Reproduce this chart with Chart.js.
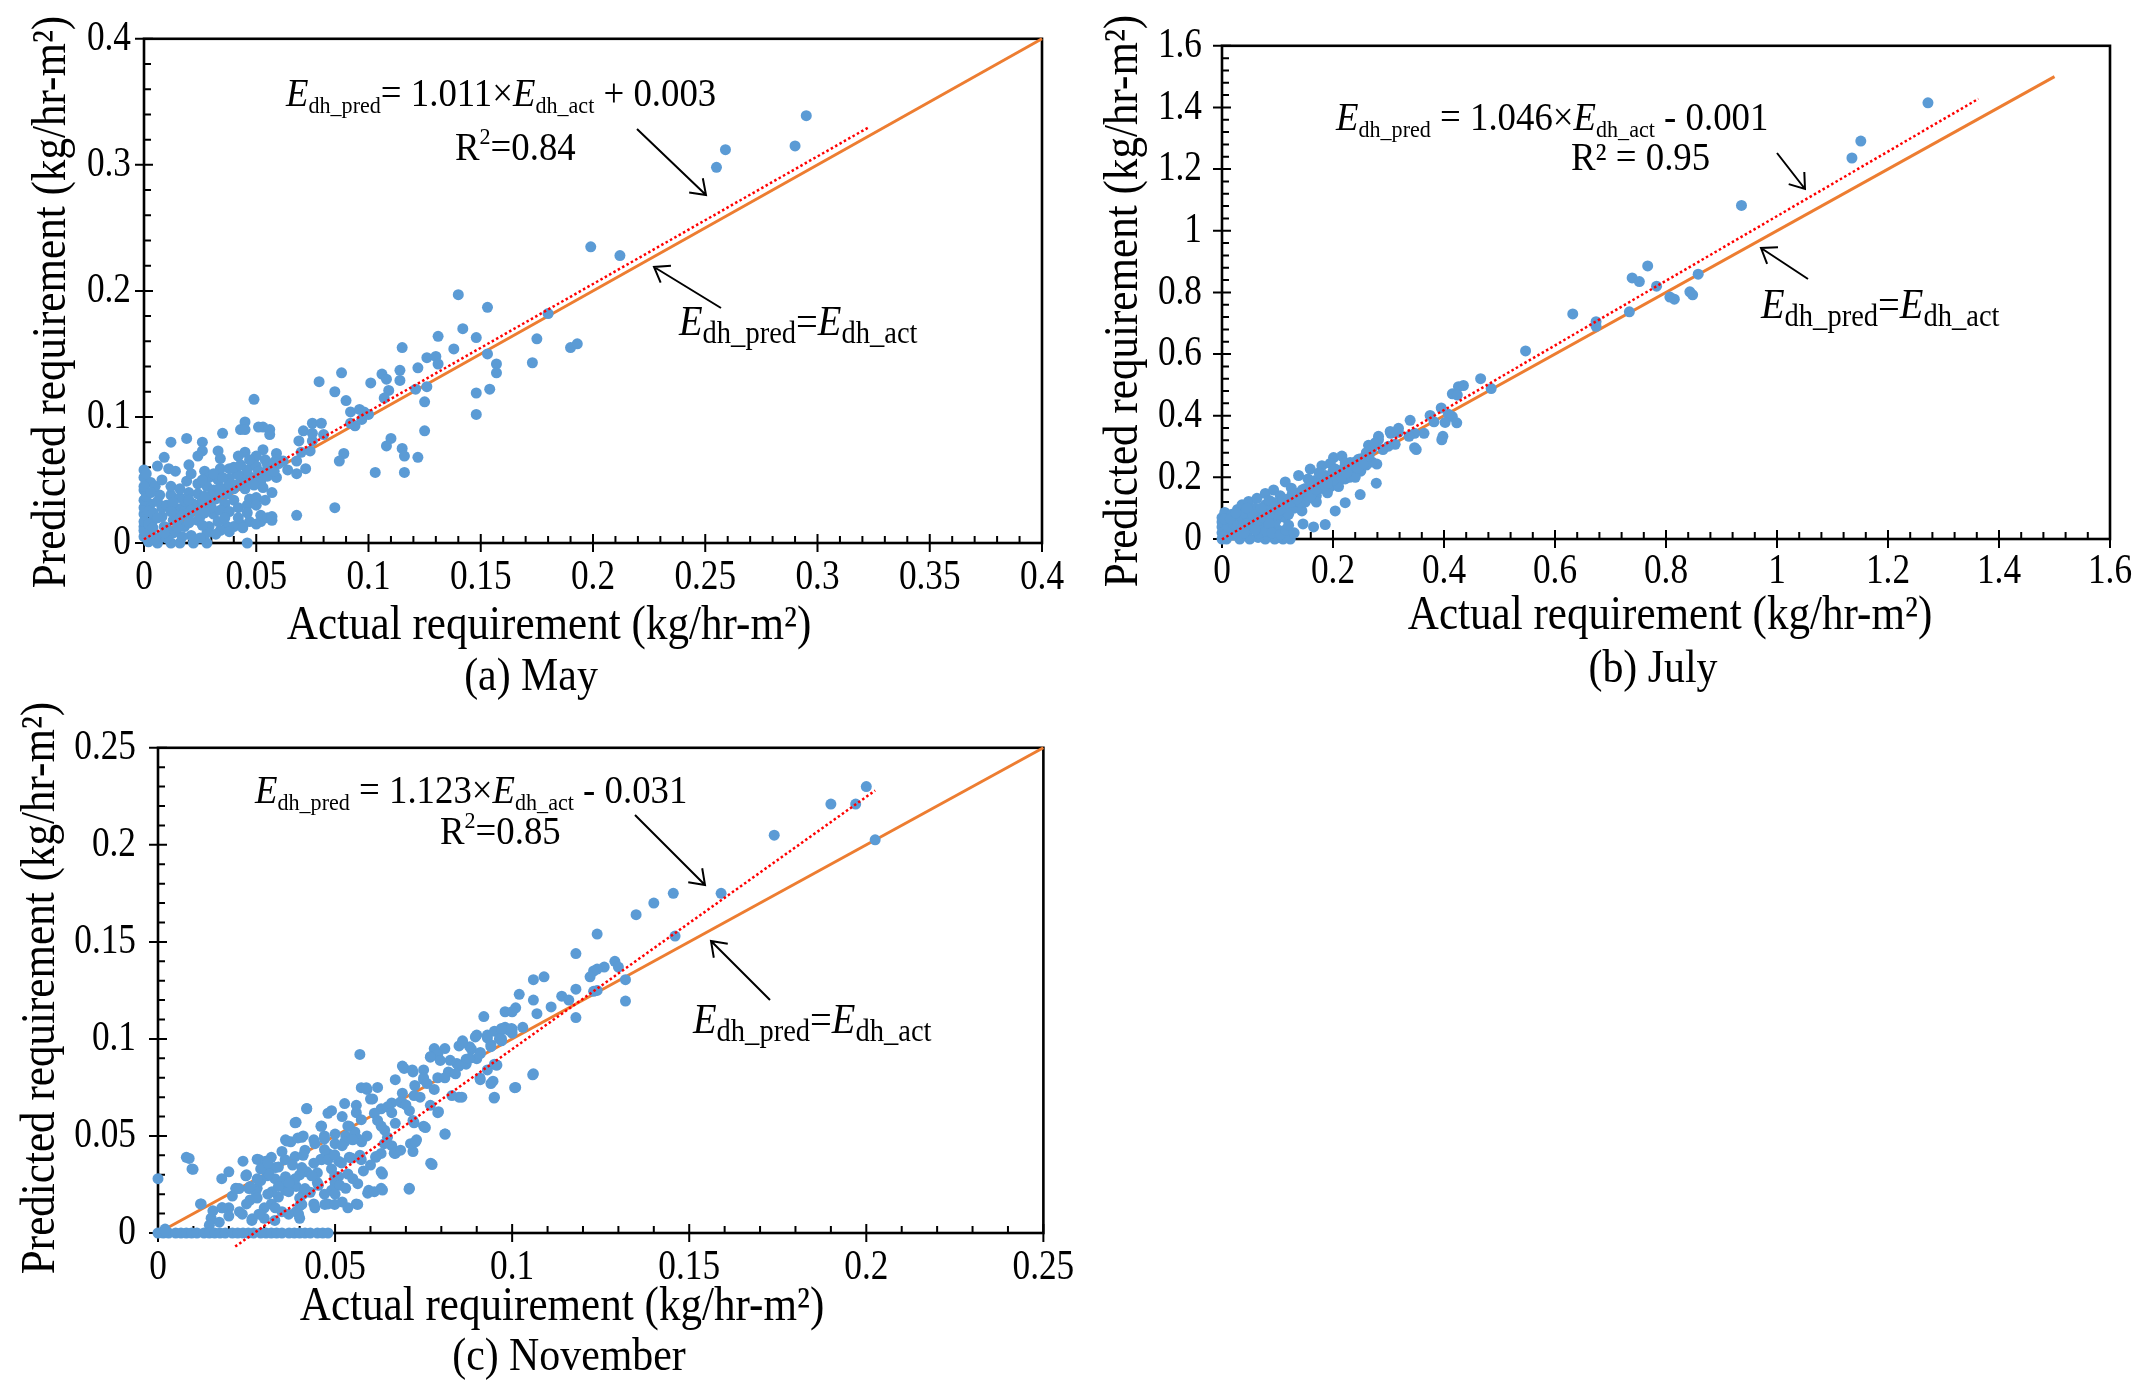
<!DOCTYPE html>
<html>
<head>
<meta charset="utf-8">
<script src="https://cdn.jsdelivr.net/npm/chart.js@4.4.1/dist/chart.umd.min.js"></script>
<style>
  body { margin: 0; background: #fff; width: 2145px; height: 1384px; position: relative; overflow: hidden; }
  canvas { position: absolute; }
</style>
</head>
<body>
<canvas id="chartMay" width="1080" height="710" style="left:0;top:0"></canvas>
<canvas id="chartJuly" width="1055" height="710" style="left:1090px;top:0"></canvas>
<canvas id="chartNov" width="1090" height="684" style="left:0;top:700px"></canvas>
<script>
// ---- data: [actual, predicted] in kg/hr-m2 ----
var mayPoints = [
  [0.295,0.339],[0.29,0.315],[0.259,0.312],[0.255,0.298],[0.199,0.235],[0.212,0.228],
  [0.14,0.197],[0.153,0.187],[0.18,0.182],[0.142,0.17],[0.131,0.164],[0.148,0.163],[0.175,0.162],[0.19,0.155],[0.193,0.158],
  [0.115,0.155],[0.138,0.154],[0.153,0.15],[0.157,0.142],[0.157,0.135],[0.173,0.143],[0.126,0.147],[0.13,0.148],[0.131,0.142],
  [0.122,0.139],[0.114,0.137],[0.106,0.134],[0.108,0.13],[0.114,0.129],[0.101,0.127],[0.088,0.135],[0.078,0.128],[0.085,0.12],
  [0.09,0.113],[0.109,0.121],[0.121,0.122],[0.126,0.124],[0.107,0.115],[0.125,0.112],[0.148,0.119],[0.154,0.122],[0.148,0.102],
  [0.049,0.114],[0.092,0.104],[0.096,0.106],[0.1,0.102],[0.094,0.093],[0.125,0.089],[0.11,0.083],[0.108,0.077],[0.115,0.075],
  [0.116,0.069],[0.122,0.068],[0.116,0.056],[0.103,0.056],[0.089,0.071],[0.087,0.065],[0.085,0.028],[0.068,0.022],[0.046,0],
  [0.098,0.104],[0.092,0.095],[0.097,0.098],
  [0.068,0.055],[0.072,0.059],[0.064,0.058],[0.059,0.052],[0.068,0.065],[0.07,0.072],[0.074,0.073],[0.075,0.081],[0.069,0.081],
  [0.071,0.089],[0.075,0.087],[0.075,0.095],[0.079,0.095],[0.08,0.086],[0.062,0.065],[0.059,0.071],[0.059,0.066],[0.053,0.074],
  [0.056,0.09],[0.053,0.092],[0.051,0.092],[0.056,0.086],[0.045,0.096],[0.043,0.09],[0.045,0.09],[0.045,0.072],[0.042,0.069],
  [0.049,0.062],[0.05,0.069],[0.035,0.087],[0.026,0.08],[0.026,0.073],[0.024,0.069],[0.033,0.073],[0.034,0.067],[0.034,0.059],
  [0.038,0.059],[0.041,0.057],[0.019,0.083],[0.012,0.08],[0.009,0.068],[0.006,0.061],[0,0.058],[0,0.052],[0.003,0.048],[0,0.042],
  [0.011,0.059],[0.014,0.057],[0.02,0.062],[0.027,0.057],[0.029,0.052],[0.019,0.049],[0.024,0.047],[0.028,0.045],[0.033,0.05],
  [0.038,0.051],[0.044,0.052],[0.047,0.049],[0.052,0.049],[0.053,0.044],[0.047,0.035],[0.05,0.036],[0.007,0.038],[0.012,0.038],
  [0.016,0.036],[0.024,0.039],[0.031,0.042],[0.037,0.039],[0.04,0.034],[0.036,0.031],[0.029,0.032],[0.025,0.028],[0.018,0.03],
  [0.015,0.027],[0.008,0.028],[0.003,0.031],[0,0.023],[0,0.013],[0,0.005],[0.004,0.018],[0.009,0.013],[0.013,0.018],[0.018,0.013],
  [0.024,0.018],[0.029,0.013],[0.037,0.013],[0.043,0.015],[0.047,0.017],[0.052,0.022],[0.052,0.017],[0.057,0.018],[0.031,0.023],
  [0.025,0.021],[0.003,0.008],[0.007,0.005],[0.012,0],[0.016,0],[0.022,0],[0.028,0],[0.006,0],[0.002,0.001],[0.013,0.008],
  [0.021,0.006],[0.028,0.008],[0.034,0.01],[0.04,0.013],
  [0.01,0.012],[0.015,0.018],[0.02,0.022],[0.024,0.027],[0.028,0.03],[0.032,0.035],[0.036,0.04],[0.04,0.043],[0.044,0.047],
  [0.048,0.052],[0.052,0.056],[0.056,0.06],[0.06,0.063],[0.018,0.025],[0.022,0.031],[0.03,0.038],[0.034,0.044],[0.038,0.047],
  [0.042,0.054],[0.046,0.058],[0.05,0.061],[0.054,0.066],[0.014,0.022],[0.026,0.034],[0.033,0.038],[0.041,0.046],[0.045,0.043],
  [0.049,0.046],[0.055,0.053],[0.058,0.057],
  [0,0.01],[0,0.017],[0,0.028],[0,0.034],[0.001,0.037],[0,0.045],[0.001,0.055],[0.002,0.015],[0.002,0.025],
  [0.005,0.003],[0.01,0.004],[0.017,0.005],[0.025,0.004],[0.032,0.007],[0.038,0.009],[0.044,0.012],[0.05,0.015],[0.055,0.02],[0.057,0.021],
  [0.005,0.045],[0.008,0.05],[0.012,0.045],[0.016,0.043],[0.02,0.04],[0.021,0.055],[0.026,0.05],[0.031,0.055],[0.035,0.052],
  [0.04,0.06],[0.043,0.062],[0.047,0.066],[0.051,0.057],[0.055,0.062],[0.058,0.064],[0.006,0.033],[0.01,0.03],[0.013,0.032],
  [0.02,0.034],[0.027,0.037],[0.03,0.028],[0.034,0.026],[0.038,0.025],[0.042,0.028],[0.046,0.03],[0.05,0.03],[0.054,0.034],
  [0.057,0.04],[0.004,0.024],[0.008,0.021],[0.012,0.025],[0.017,0.022],[0.021,0.026],[0.027,0.024],[0.003,0.04],[0.009,0.008],
  [0.015,0.012],[0.02,0.016],[0.026,0.014],[0.033,0.017],[0.036,0.02],[0.042,0.02],[0.046,0.024],[0.004,0.012],[0.006,0.02]
];
var mayFitLine = [[0,0.003],[0.323,0.33]];
var mayParityLine = [[0,0],[0.4,0.4]];
var mayXAxis = [0.4, 0.05, 0.01];   // max, major step, minor step
var mayYAxis = [0.4, 0.1, 0.02];

var julyPoints = [
  [1.272,1.415],[1.151,1.291],[1.135,1.236],[0.936,1.082],[0.767,0.886],[0.739,0.847],[0.752,0.835],[0.858,0.859],[0.783,0.82],
  [0.807,0.785],[0.815,0.778],[0.843,0.802],[0.848,0.792],[0.734,0.737],[0.632,0.73],[0.674,0.705],[0.674,0.69],[0.547,0.61],
  [0.466,0.52],[0.485,0.488],[0.426,0.494],[0.435,0.498],[0.415,0.471],[0.424,0.467],[0.395,0.425],[0.375,0.401],[0.408,0.405],
  [0.415,0.397],[0.402,0.378],[0.423,0.377],[0.382,0.38],[0.339,0.385],[0.398,0.333],[0.396,0.322],[0.364,0.343],[0.347,0.343],
  [0.337,0.333],[0.318,0.346],[0.304,0.343],[0.347,0.296],[0.35,0.29],[0.312,0.307],[0.3,0.301],[0.282,0.322],[0.264,0.304],
  [0.27,0.291],[0.318,0.359],[0.303,0.349],[0.279,0.243],[0.278,0.181],[0.249,0.144],[0.222,0.118],[0.204,0.091],[0.186,0.047],
  [0.165,0.039],[0.146,0.049],
  [0.123,0],[0.11,0],[0.095,0],[0.078,0],[0.05,0],[0.032,0],[0.008,0],[0,0],[0.12,0.01],[0.1,0.005],[0.065,0.005],
  [0,0.039],[0,0.069],[0.005,0.086],[0,0.02],[0,0.055],
  [0.011,0.059],[0.018,0.08],[0.028,0.096],[0.036,0.111],[0.048,0.122],[0.063,0.132],[0.078,0.148],[0.093,0.159],[0.114,0.185],
  [0.138,0.206],[0.159,0.227],[0.18,0.238],[0.201,0.264],[0.216,0.269],[0.282,0.333],[0.168,0.19],[0.186,0.206],[0.222,0.195],
  [0.222,0.248],[0.204,0.227],[0.18,0.164],[0.15,0.164],[0.138,0.148],[0.108,0.122],[0.126,0.143],[0.096,0.091],[0.078,0.111],
  [0.06,0.091],[0.042,0.069],[0.024,0.059],[0.018,0.039],[0.036,0.039],[0.054,0.049],[0.078,0.059],[0.102,0.069],[0.114,0.101],
  [0.09,0.039],[0.102,0.028],[0.066,0.018],[0.048,0.028],[0.012,0.023],[0.02,0.013],[0.014,0.028],[0.21,0.185],[0.234,0.217],
  [0.246,0.259],[0.276,0.312],[0.231,0.248],[0.195,0.169],[0.165,0.132],[0.144,0.091],[0.126,0.111],[0.144,0.148],[0.114,0.069],
  [0.096,0.054],[0.078,0.039],[0.06,0.039],
  [0.02,0.03],[0.03,0.05],[0.04,0.04],[0.05,0.06],[0.06,0.07],[0.07,0.08],[0.08,0.09],[0.09,0.1],[0.1,0.11],[0.11,0.12],
  [0.12,0.13],[0.13,0.14],[0.14,0.15],[0.15,0.16],[0.16,0.17],[0.17,0.18],[0.18,0.19],[0.19,0.2],[0.2,0.21],[0.21,0.22],
  [0.22,0.23],[0.23,0.24],[0.24,0.25],[0.25,0.26],[0.05,0.03],[0.07,0.05],[0.09,0.07],[0.11,0.09],[0.13,0.1],[0.15,0.12],
  [0.17,0.14],[0.19,0.15],[0.21,0.17],[0.23,0.2],[0.25,0.22],[0.27,0.25],[0.03,0.07],[0.06,0.1],[0.085,0.125],[0.105,0.14],
  [0.125,0.165],[0.155,0.195],[0.175,0.215],[0.195,0.245],[0.26,0.28],[0.29,0.29],[0.26,0.24],[0.24,0.2],[0.2,0.19],
  [0.17,0.12],[0.12,0.08],[0.14,0.12],[0.1,0.08],
  [0.01,0.02],[0.015,0.045],[0.025,0.02],[0.03,0.035],[0.035,0.06],[0.045,0.05],[0.04,0.085],[0.055,0.08],[0.065,0.06],
  [0.07,0.1],[0.075,0.07],[0.085,0.08],[0.09,0.12],[0.095,0.105],[0.105,0.095],[0.11,0.13],[0.115,0.115],[0.125,0.12],
  [0.135,0.13],[0.145,0.16],[0.155,0.15],[0.16,0.14],[0.17,0.16],[0.185,0.175],[0.19,0.18],[0.2,0.22],[0.215,0.2],
  [0.225,0.215],[0.245,0.23],[0.255,0.245],[0.265,0.27],[0.005,0.01],[0.01,0.04],[0.02,0.05],[0.04,0.02],[0.06,0.03],
  [0.08,0.025],[0.085,0.05],[0.005,0.065],[0.015,0.065],[0.025,0.085],[0.045,0.1],[0.09,0.02],[0.105,0.015],[0.115,0.03],
  [0.12,0.045],[0.13,0.02]
];
var julyFitLine = [[0,-0.001],[1.363,1.428]];
var julyParityLine = [[0,0],[1.5,1.5]];
var julyXAxis = [1.6, 0.2, 0.04];
var julyYAxis = [1.6, 0.2, 0.04];

var novPoints = [
  [0.2,0.23],[0.19,0.221],[0.197,0.221],[0.174,0.205],[0.2025,0.2026],[0.159,0.175],[0.1455,0.175],[0.14,0.17],[0.135,0.164],
  [0.146,0.153],[0.124,0.154],[0.118,0.144],[0.129,0.14],[0.126,0.137],[0.124,0.136],[0.123,0.135],[0.13,0.137],[0.132,0.1305],
  [0.122,0.132],[0.109,0.132],[0.106,0.1305],[0.123,0.1245],[0.124,0.125],[0.118,0.1256],[0.132,0.1195],[0.114,0.122],[0.116,0.12],
  [0.102,0.123],[0.106,0.12],[0.111,0.1165],[0.107,0.113],[0.118,0.111],[0.101,0.116],[0.098,0.114],[0.1,0.114],[0.092,0.1115],
  [0.098,0.106],[0.099,0.1046],[0.1,0.105],[0.0965,0.1035],[0.09,0.102],[0.093,0.1005],[0.097,0.099],[0.094,0.097],[0.086,0.099],
  [0.085,0.0964],[0.0885,0.0947],[0.087,0.0895],[0.09,0.0898],[0.0957,0.0865],[0.0825,0.089],[0.079,0.093],[0.106,0.082],
  [0.057,0.092],[0.042,0.064],[0.039,0.057],[0.008,0.039],[0.0096,0.033],[0,0.028],[0.012,0.015],[0.018,0.013],[0.015,0.0076],
  [0.002,0.002],[0.077,0.036],[0.071,0.023],[0.081,0.051],[0.079,0.062],[0.085,0.07],[0.095,0.07],[0.101,0.075],[0.091,0.079],
  [0.093,0.084],[0.094,0.077],[0.095,0.087],[0.087,0.087],[0.088,0.096],[0.081,0.095],[0.078,0.095],[0.077,0.091],[0.079,0.092],
  [0.075,0.084],[0.075,0.079],[0.069,0.086],[0.072,0.083],[0.067,0.079],[0.0725,0.076],[0.069,0.072],[0.062,0.075],[0.059,0.074],
  [0.06,0.069],[0.066,0.067],[0.063,0.064],[0.069,0.067],[0.071,0.063],[0.072,0.058],[0.067,0.0565],[0.064,0.053],[0.075,0.055],
  [0.073,0.048],[0.072,0.042],[0.067,0.041],[0.063,0.041],[0.0615,0.039],[0.066,0.045],[0.063,0.0315],[0.063,0.023],[0.0595,0.022],
  [0.053,0.05],[0.054,0.055],[0.056,0.062],[0.0556,0.052],[0.0575,0.047],[0.057,0.04],[0.054,0.039],[0.051,0.037],[0.047,0.05],
  [0.05,0.046],[0.048,0.041],[0.046,0.038],[0.049,0.033],[0.051,0.029],[0.05,0.026],[0.049,0.022],[0.052,0.016],[0.056,0.015],
  [0.048,0.015],[0.044,0.015],[0.04,0.014],[0.041,0.02],[0.045,0.026],[0.045,0.031],[0.042,0.0315],[0.04,0.03],[0.039,0.024],
  [0.036,0.022],[0.034,0.0185],[0.032,0.015],[0.035,0.011],[0.039,0.011],[0.03,0.0076],[0.03,0.013],[0.026,0.017],[0.023,0.011],
  [0.028,0.023],[0.029,0.027],[0.033,0.028],[0.036,0.029],[0.034,0.034],[0.031,0.033],[0.032,0.039],[0.028,0.038],[0.035,0.042],
  [0.0375,0.047],[0.0395,0.049],[0.041,0.05],[0.036,0.048],[0.044,0.048],[0.046,0.055],[0.049,0.063],[0.052,0.06],[0.025,0.03],
  [0.024,0.037],[0.022,0.023],[0.021,0.019],[0.018,0.028],[0.02,0.0315],[0.0265,0.0065],[0.033,0.0065],[0.04,0.0076],[0.02,0.013],
  [0.02,0.0087],
  [0.0536,0.0551],[0.0574,0.0584],[0.0611,0.0617],[0.0648,0.065],[0.0685,0.0675],[0.0723,0.0708],[0.05,0.051],[0.047,0.0485],
  [0.0443,0.046],[0.0415,0.0427],[0.0387,0.0394],[0.0359,0.0378],[0.0331,0.0337],[0.0308,0.0295],[0.028,0.0279],[0.0248,0.0295],
  [0.022,0.0229],[0.0155,0.0114],[0.0122,0.015],[0.0182,0.013],[0.0173,0.0056],[0.0145,0.004],[0.0088,0.0384],[0.0099,0.0328],
  [0.0238,0.0097],[0.0229,0.0229],[0.0266,0.0073],[0.0285,0.0378],[0.0304,0.037],[0.0257,0.0229],[0.0276,0.0213],[0.0313,0.0304],
  [0.0322,0.0213],[0.035,0.0262],[0.0369,0.0213],[0.0387,0.0279],[0.0406,0.0337],[0.0415,0.0229],[0.0434,0.0295],[0.0453,0.0246],
  [0.0406,0.0147],[0.0443,0.013],[0.0471,0.0147],[0.0499,0.0147],[0.0536,0.013],[0.0564,0.0147],[0.0369,0.0097],[0.0397,0.0097],
  [0.0285,0.0097],[0.0331,0.013],[0.0387,0.0568],[0.042,0.0642],[0.0364,0.0474],[0.0406,0.0493],[0.0462,0.0551],[0.048,0.0617],
  [0.0527,0.0667],[0.056,0.0658],[0.0574,0.0749],[0.0588,0.0749],[0.0606,0.0691],[0.0695,0.0848],[0.0718,0.084],[0.0769,0.0906],
  [0.075,0.0799],[0.0462,0.0378],[0.048,0.0378],[0.0499,0.0403],[0.0518,0.0361],[0.0546,0.0386],[0.0574,0.0378],[0.0499,0.0295],
  [0.0513,0.0246],[0.0536,0.0304],[0.0564,0.0254],[0.0592,0.0205],[0.0611,0.0213],[0.0634,0.0221],[0.0634,0.0304],[0.0667,0.0411],
  [0.0685,0.0427],[0.0713,0.046],[0.0615,0.0394],[0.0639,0.046],[0.0648,0.0493],[0.063,0.0551],[0.0564,0.0485],[0.0527,0.0469],
  [0.0709,0.0226],[0.0774,0.0353],[0.0723,0.0568],[0.0727,0.0469],[0.0755,0.0543],[0.0811,0.051],[0.0792,0.0625],[0.0769,0.0658],
  [0.083,0.0708],[0.0858,0.07],[0.0909,0.0799],[0.0946,0.0782],[0.0949,0.0695],[0.1007,0.0749],[0.1058,0.0815],[0.0955,0.0865],
  [0.0844,0.0873],[0.0797,0.0889],
  [0.076,0.077],[0.079,0.08],[0.082,0.083],[0.085,0.086],[0.088,0.09],[0.091,0.093],[0.094,0.096],[0.097,0.1],[0.1,0.103],[0.103,0.106],
  [0.086,0.098],[0.0896,0.101],[0.093,0.102],[0.095,0.104],[0.097,0.1054],[0.0998,0.1054],[0.0964,0.1],[0.091,0.0924],
  [0.025,0.015],[0.028,0.018],[0.031,0.02],[0.034,0.024],[0.037,0.026],[0.04,0.018],[0.043,0.021],[0.047,0.02],[0.05,0.02],
  [0.053,0.023],[0.055,0.028],[0.058,0.032],[0.06,0.035],[0.038,0.035],[0.041,0.04],[0.044,0.036],[0.047,0.043],[0.052,0.045],
  [0.055,0.048],[0.059,0.05],[0.062,0.058],[0.066,0.062],[0.07,0.066],[0.074,0.07],[0.078,0.074],[0.081,0.08],[0.084,0.082],
  [0.029,0.033],[0.026,0.024],[0.031,0.036],
  [0,0],[0.0015,0],[0.003,0],[0.005,0],[0.0065,0],[0.008,0],[0.0095,0],[0.011,0],[0.013,0],[0.0145,0],[0.016,0],[0.0175,0],
  [0.019,0],[0.021,0],[0.0225,0],[0.024,0],[0.0255,0],[0.027,0],[0.029,0],[0.0305,0],[0.032,0],[0.0335,0],[0.035,0],[0.037,0],
  [0.0385,0],[0.04,0],[0.0415,0],[0.043,0],[0.045,0],[0.0465,0],[0.048,0],[0.002,0.001]
];
var novFitLine = [[0.0218,-0.007],[0.2025,0.228]];
var novParityLine = [[0,0],[0.25,0.25]];
var novXAxis = [0.25, 0.05, 0.01];
var novYAxis = [0.25, 0.05, 0.01];

// ---- drawing helpers ----
var serif = "'Liberation Serif', 'Times New Roman', serif";

function xy(list) {
  return list.map(function (p) { return { x: p[0], y: p[1] }; });
}

function fmt(v) {
  return String(Math.round(v * 1000) / 1000);
}

// the source figure's text is narrow and tall: squeeze glyphs sideways
function narrowText(ctx) {
  var orig = ctx.fillText;
  ctx.textScale = 0.82;
  ctx.fillText = function (t, x, y) {
    this.save();
    this.translate(x, y);
    this.scale(this.textScale, 1);
    orig.call(this, t, 0, 0);
    this.restore();
  };
}

// text made of runs: [text, size, italic, dy]
function drawRuns(ctx, x, y, runs) {
  var cx = x;
  runs.forEach(function (r) {
    ctx.font = (r[2] ? 'italic ' : '') + r[1] + 'px ' + serif;
    ctx.fillText(r[0], cx, y + r[3]);
    cx += ctx.measureText(r[0]).width * ctx.textScale;
  });
}

function arrow(ctx, x1, y1, x2, y2) {
  var a = Math.atan2(y2 - y1, x2 - x1), h = 17, s = 0.62;
  ctx.beginPath();
  ctx.moveTo(x1, y1);
  ctx.lineTo(x2, y2);
  ctx.moveTo(x2 - h * Math.cos(a - s), y2 - h * Math.sin(a - s));
  ctx.lineTo(x2, y2);
  ctx.lineTo(x2 - h * Math.cos(a + s), y2 - h * Math.sin(a + s));
  ctx.stroke();
}

// box round the plot plus major/minor tick marks
function framePlugin(xAx, yAx) {
  return {
    id: 'frame',
    beforeDraw: function (chart) { chart.ctx.textScale = 0.82; },
    beforeDatasetsDraw: function (chart) {
      var ctx = chart.ctx, a = chart.chartArea, sx = chart.scales.x, sy = chart.scales.y;
      ctx.save();
      ctx.strokeStyle = '#000';
      ctx.lineWidth = 2.6;
      ctx.strokeRect(a.left, a.top, a.right - a.left, a.bottom - a.top);
      ctx.lineWidth = 2;
      ctx.beginPath();
      var n = Math.round(xAx[0] / xAx[2]), every = Math.round(xAx[1] / xAx[2]), i, p;
      for (i = 0; i <= n; i++) {
        p = sx.getPixelForValue(i * xAx[2]);
        ctx.moveTo(p, a.bottom + (i % every === 0 ? 9 : 0));
        ctx.lineTo(p, a.bottom - (i % every === 0 ? 9 : 7));
      }
      n = Math.round(yAx[0] / yAx[2]); every = Math.round(yAx[1] / yAx[2]);
      for (i = 0; i <= n; i++) {
        p = sy.getPixelForValue(i * yAx[2]);
        ctx.moveTo(a.left - (i % every === 0 ? 9 : 0), p);
        ctx.lineTo(a.left + (i % every === 0 ? 9 : 7), p);
      }
      ctx.stroke();
      ctx.restore();
    }
  };
}

// titles, caption, equation and arrows (page coordinates)
function notesPlugin(off, n) {
  return {
    id: 'notes',
    afterDraw: function (chart) {
      var ctx = chart.ctx;
      ctx.save();
      ctx.translate(-off[0], -off[1]);
      ctx.fillStyle = '#000';
      ctx.strokeStyle = '#000';
      ctx.lineWidth = 2;
      ctx.textBaseline = 'alphabetic';
      ctx.textAlign = 'center';
      ctx.textScale = 0.88;
      ctx.font = '49px ' + serif;
      ctx.fillText('Actual requirement (kg/hr-m\u00B2)', n.xTitle[0], n.xTitle[1]);
      ctx.save();
      ctx.translate(n.yTitle[0], n.yTitle[1]);
      ctx.rotate(-Math.PI / 2);
      ctx.textBaseline = 'middle';
      ctx.fillText('Predicted requirement (kg/hr-m\u00B2)', 0, 0);
      ctx.restore();
      ctx.textScale = 0.91;
      ctx.font = '46px ' + serif;
      ctx.fillText(n.caption, n.capPos[0], n.capPos[1]);
      ctx.textAlign = 'left';
      ctx.textScale = 0.92;
      drawRuns(ctx, n.eqPos[0], n.eqPos[1], [
        ['E', 40, true, 0], ['dh_pred', 24, false, 7], [n.eq[0], 40, false, 0],
        ['E', 40, true, 0], ['dh_act', 24, false, 7], [n.eq[1], 40, false, 0]
      ]);
      drawRuns(ctx, n.r2Pos[0], n.r2Pos[1], n.r2);
      drawRuns(ctx, n.labelPos[0], n.labelPos[1], [
        ['E', 42, true, 0], ['dh_pred', 31, false, 8], ['=', 42, false, 0],
        ['E', 42, true, 0], ['dh_act', 31, false, 8]
      ]);
      n.arrows.forEach(function (r) { arrow(ctx, r[0], r[1], r[2], r[3]); });
      ctx.restore();
    }
  };
}

function axisOpts(ax, pad, fit) {
  return {
    type: 'linear', min: 0, max: ax[0],
    afterFit: fit,
    grid: { display: false, drawTicks: false },
    border: { display: false },
    ticks: {
      stepSize: ax[1], padding: pad, color: '#000', autoSkip: false, maxRotation: 0,
      font: { family: serif, size: 43 },
      callback: function (v) { return fmt(v); }
    }
  };
}

function makeChart(id, pts, fit, parity, xAx, yAx, box, off, notes) {
  var c = document.getElementById(id).getContext('2d');
  narrowText(c);
  return new Chart(c, {
    type: 'scatter',
    data: {
      datasets: [
        { data: xy(fit), showLine: true, borderColor: '#FF0000', borderWidth: 2.5, borderDash: [2.5, 2.5],
          pointRadius: 0, fill: false, clip: false },
        { data: xy(pts), backgroundColor: '#5B9BD5', borderWidth: 0, pointRadius: 5.5, clip: false },
        { data: xy(parity), showLine: true, borderColor: '#ED7D31', borderWidth: 3,
          pointRadius: 0, fill: false, clip: false }
      ]
    },
    options: {
      responsive: false, animation: false, devicePixelRatio: 1,
      layout: { padding: { top: box.top, right: box.right, left: 0, bottom: 0 } },
      plugins: { legend: { display: false }, tooltip: { enabled: false } },
      scales: {
        x: axisOpts(xAx, box.xPad, function (s) { s.height = box.xh; }),
        y: axisOpts(yAx, box.yPad, function (s) { s.width = box.yw; })
      }
    },
    plugins: [framePlugin(xAx, yAx), notesPlugin(off, notes)]
  });
}

// (a) May
makeChart('chartMay', mayPoints, mayFitLine, mayParityLine, mayXAxis, mayYAxis,
  { top: 33, right: 38, yw: 144, xh: 167, xPad: 9, yPad: 13 }, [0, 0],
  { xTitle: [549, 639], yTitle: [52, 302], caption: '(a) May', capPos: [531, 690],
    eqPos: [286, 106], eq: ['= 1.011\u00D7', ' + 0.003'],
    r2Pos: [455, 160], r2: [['R', 40, false, 0], ['2', 24, false, -16], ['=0.84', 40, false, 0]],
    labelPos: [679, 335], arrows: [[637, 129, 706, 195], [721, 308, 654, 267]] });

// (b) July
makeChart('chartJuly', julyPoints, julyFitLine, julyParityLine, julyXAxis, julyYAxis,
  { top: 32, right: 35, yw: 132, xh: 171, xPad: 7, yPad: 20 }, [1090, 0],
  { xTitle: [1670, 629], yTitle: [1124, 301], caption: '(b) July', capPos: [1653, 682],
    eqPos: [1336, 130], eq: [' = 1.046\u00D7', ' - 0.001'],
    r2Pos: [1571, 170], r2: [['R\u00B2 = 0.95', 40, false, 0]],
    labelPos: [1761, 318], arrows: [[1777, 153, 1805, 189], [1808, 279, 1761, 248]] });

// (c) November
makeChart('chartNov', novPoints, novFitLine, novParityLine, novXAxis, novYAxis,
  { top: 27, right: 37, yw: 158, xh: 151, xPad: 9, yPad: 22 }, [0, 700],
  { xTitle: [562, 1320], yTitle: [41, 988], caption: '(c) November', capPos: [569, 1370],
    eqPos: [255, 803], eq: [' = 1.123\u00D7', ' - 0.031'],
    r2Pos: [440, 844], r2: [['R', 40, false, 0], ['2', 24, false, -16], ['=0.85', 40, false, 0]],
    labelPos: [693, 1033], arrows: [[635, 815, 705, 885], [770, 1000, 711, 941]] });
</script>
</body>
</html>
